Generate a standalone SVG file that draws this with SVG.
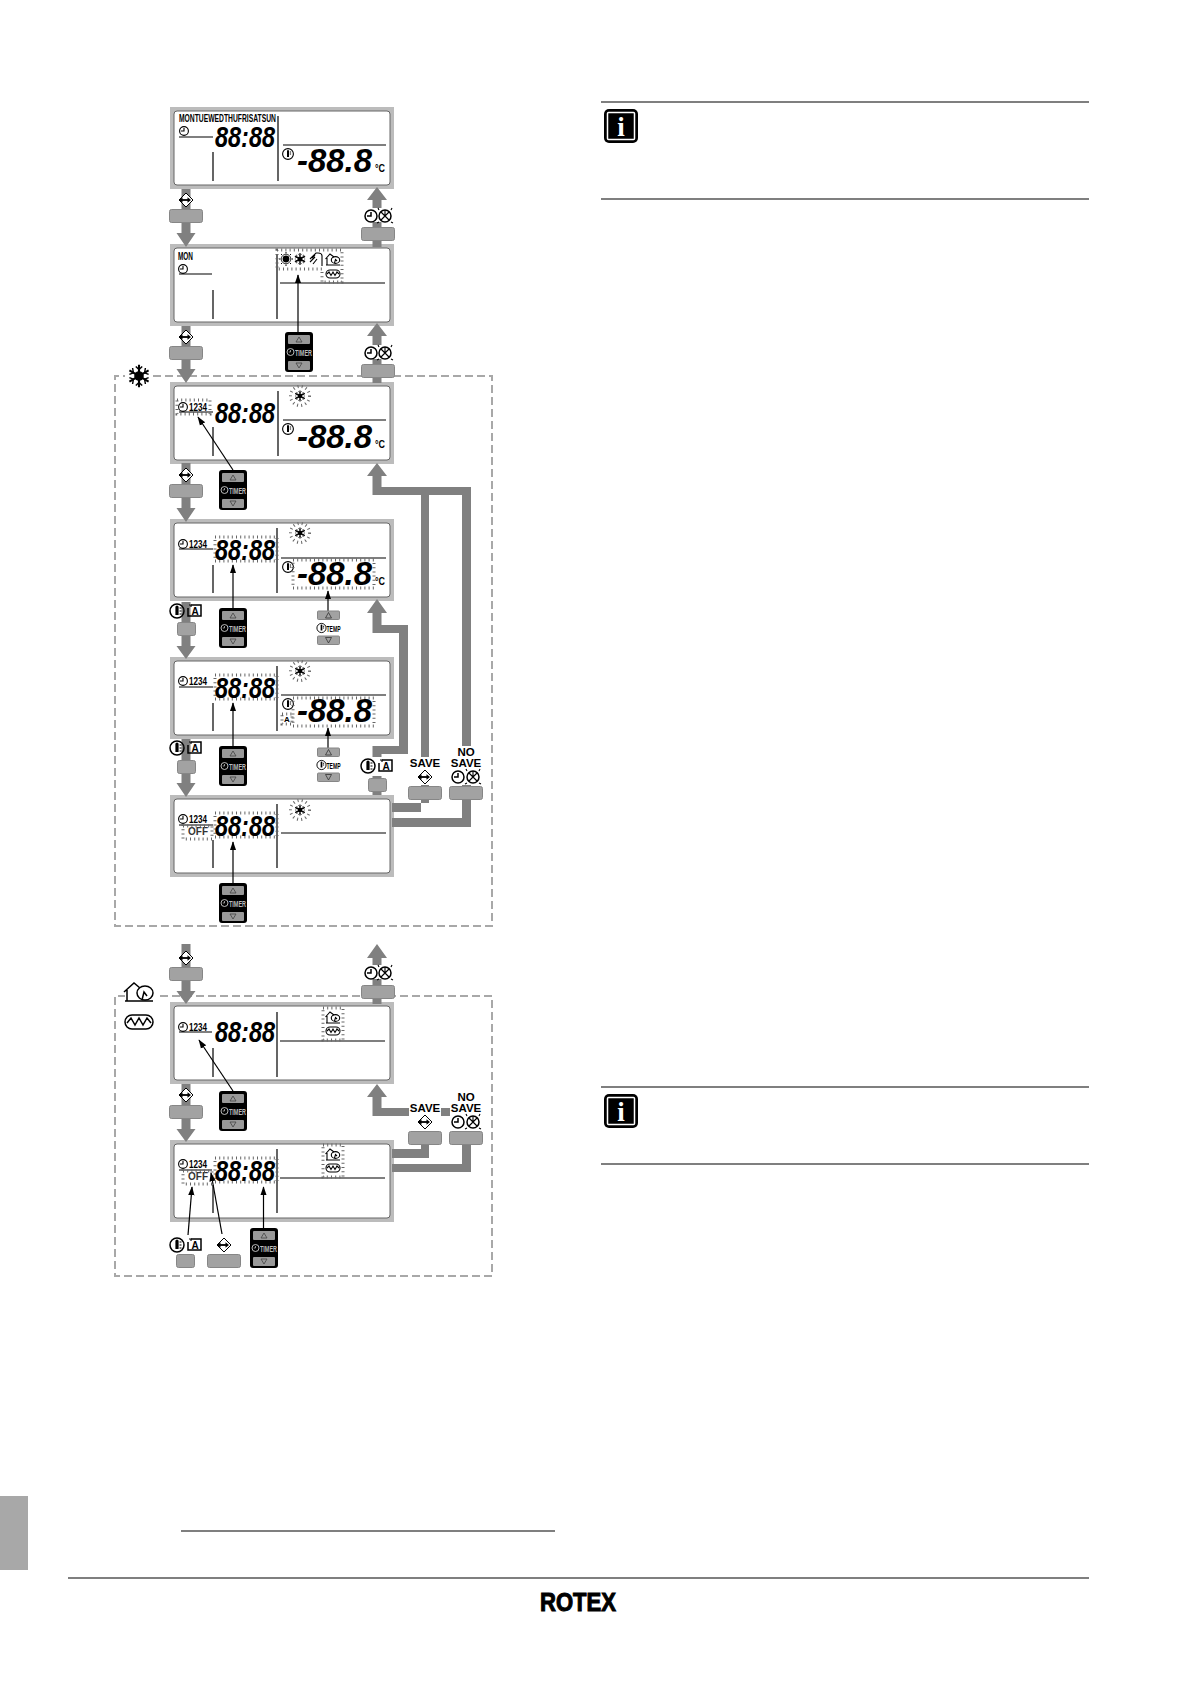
<svg xmlns="http://www.w3.org/2000/svg" xmlns:xlink="http://www.w3.org/1999/xlink" width="1191" height="1685" viewBox="0 0 1191 1685">
<style>
text{font-family:"Liberation Sans",Arial,sans-serif}
.outer{fill:#bcbcbc}
.inner{fill:#fff;stroke:#666;stroke-width:1}
.ln{stroke:#000;stroke-width:1.2;fill:none}
.dg{font-size:30px;font-weight:bold;font-style:italic}
.lg{font-size:34px;font-weight:bold;font-style:italic}
.sm{font-size:10.5px;font-weight:bold}
.cc{font-size:11px;font-weight:bold}
.blink{fill:none;stroke:#666;stroke-width:3;stroke-dasharray:1 3.2}
.thick{fill:#808080}
.btn{fill:#a2a2a2;stroke:#868686;stroke-width:1}
.thin{stroke:#000;stroke-width:1.2;fill:none;marker-end:url(#head)}
.lbl{font-size:11.5px;font-weight:bold;text-anchor:middle}
.ic{fill:none;stroke:#000;stroke-width:1.1}
.ict{fill:none;stroke:#000;stroke-width:1.5}
.dash{fill:none;stroke:#a8a8a8;stroke-width:2;stroke-dasharray:8 4}
.rule{stroke:#000;stroke-width:1.2}
.rk{font-size:9.5px;font-weight:bold;fill:#bbb}
.tp{font-size:9px;font-weight:bold}
</style>
<defs>
<marker id="head" markerUnits="userSpaceOnUse" markerWidth="9" markerHeight="13" refX="12" refY="4.5" viewBox="0 0 13 9" orient="auto"><path d="M0,0L13,4.5L0,9Z"/></marker>
<g id="clock"><circle r="4.4" class="ic"/><path d="M0,-3V0H-3" class="ic"/></g>
<g id="clockL"><circle r="6" class="ict"/><path d="M0,-4V0H-4" class="ict"/></g>
<g id="xc"><circle r="6" class="ict"/><path d="M-4,-4L4,4M4,-4L-4,4M0,-6V0" class="ic"/><path d="M-7,-8l1,2M7,-8l-1,2M-8,7l2,-1M8,7l-2,-1" class="ic"/></g>
<g id="thermo"><circle r="5.4" class="ic"/><path d="M-1,3V-3a1,1 0 0 1 2,0V3Z" fill="#000"/><path d="M1.800,-2h1.300M1.800,0h1.300" class="ic"/></g>
<g id="thermoL"><circle r="7" class="ict"/><path d="M-1.600,4V-4a1.600,1.600 0 0 1 3.200,0V4Z" fill="#000"/><path d="M2.500,-3h2M2.500,0h2M2.500,3h2" class="ic"/></g>
<g id="aicon"><path d="M-4,-6H6V5H-7V-3" class="ict"/><path d="M-6,-6l2,0l0,2" class="ic"/><text x="0" y="4" font-size="10" font-weight="bold" text-anchor="middle">A</text></g>
<g id="enter"><path d="M0,-7L7,0L0,7L-7,0Z" fill="#fff" stroke="#000" stroke-width="1"/><path d="M-6,0H3" stroke="#000" stroke-width="1.800"/><path d="M-7,0l3.500,-2.800v5.600ZM5,0l-3.500,-2.800v5.600Z"/></g>
<g id="snow"><path d="M0,-7V7M-6,-3.500L6,3.500M-6,3.500L6,-3.500" stroke="#000" stroke-width="1.300"/><path d="M-2,-6L0,-4L2,-6M-2,6L0,4L2,6M-6,-1L-3.500,-2L-4,-5M6,-1L3.500,-2L4,-5M-6,1L-3.500,2L-4,5M6,1L3.500,2L4,5" stroke="#000" stroke-width=".9" fill="none"/><circle r="3"/></g>
<g id="snowB"><use xlink:href="#snow" href="#snow" transform="scale(.8)"/><circle r="9.500" class="blink"/></g>
<g id="sun"><circle r="3.400"/><circle r="4.800" fill="none" stroke="#000" stroke-width=".8"/><path d="M0,-7V-5.500M0,5.500V7M-7,0H-5.500M5.500,0H7M-5,-5l1,1M4,4l1,1M-5,5l1,-1M4,-4l1,-1" stroke="#000"/></g>
<g id="shower"><path d="M6,7V-3Q6,-6 2,-6H0L-6,0M-4,-1L-1,-4M-6,3L-1,-2M-3,5L1,0" class="ic"/></g>
<g id="house"><path d="M-7,6H7M-6,6V-1M-7.500,0L-3,-5L1,-2" class="ic"/><ellipse cx="2.500" cy="1" rx="4.200" ry="3.400" class="ic"/><path d="M1.500,4L2.500,0.500L4,2" class="ic"/></g>
<g id="heater"><rect x="-7" y="-4" width="14" height="8" rx="4" class="ic"/><path d="M-6,0L-4,-2L-2,1.500L0,-2L2,1.500L4,-2L6,0" class="ic"/></g>
<g id="houseL"><path d="M-14,9H14M-12,9V-2M-15,0L-5,-9L1,-4" class="ict"/><ellipse cx="6" cy="1" rx="8" ry="7" class="ict"/><path d="M3,8L5,0L8,4" class="ict"/></g>
<g id="heaterL"><rect x="-14" y="-7" width="28" height="14" rx="7" class="ict"/><path d="M-12,1L-8,-4L-4,3L0,-4L4,3L8,-4L12,1" class="ict"/></g>
<g id="timer"><rect width="28" height="40" rx="3" fill="#000"/><rect x="3" y="3" width="22" height="9" rx="1" fill="#999"/><rect x="3" y="29" width="22" height="9" rx="1" fill="#999"/><path d="M14,5L11,10H17Z" fill="none" stroke="#444" stroke-width=".8"/><path d="M14,36L11,31H17Z" fill="none" stroke="#444" stroke-width=".8"/><circle cx="5.500" cy="20" r="3.500" fill="none" stroke="#ccc" stroke-width=".9"/><path d="M5.500,18V20H3.800" fill="none" stroke="#ccc" stroke-width=".7"/><text x="10" y="24" class="rk" textLength="17" lengthAdjust="spacingAndGlyphs">TIMER</text></g>
<g id="temp"><rect x="0" y="0" width="22" height="8.500" rx="1" class="btn"/><rect x="0" y="25" width="22" height="8.500" rx="1" class="btn"/><path d="M11,1.500L8,7H14Z" fill="none" stroke="#333" stroke-width=".8"/><path d="M11,32L8,26.500H14Z" fill="none" stroke="#333" stroke-width=".8"/><use xlink:href="#thermo" href="#thermo" transform="translate(4,17) scale(.85)"/><text x="9" y="20.500" class="tp" textLength="14" lengthAdjust="spacingAndGlyphs">TEMP</text></g>
<g id="panelbase"><rect width="224" height="82" class="outer"/><rect x="4" y="4" width="216" height="74" rx="3" class="inner"/></g>
</defs>
<rect width="1191" height="1685" fill="#fff"/>

<g id="page-frame">
<rect x="0" y="1496" width="28" height="74" fill="#a8a8a8"/>
<line x1="181" y1="1531" x2="555" y2="1531" class="rule"/>
<line x1="68" y1="1578" x2="1089" y2="1578" class="rule"/>
<text x="540" y="1611" font-size="25" font-weight="bold" stroke="#000" stroke-width="1" textLength="76" lengthAdjust="spacingAndGlyphs">ROTEX</text>
</g>

<g id="info-1">
<line x1="601" y1="102" x2="1089" y2="102" class="rule"/><line x1="601" y1="199" x2="1089" y2="199" class="rule"/>
<rect x="604" y="109" width="34" height="34" rx="5" fill="#000"/><rect x="607.500" y="112.500" width="27" height="27" rx="1" fill="#000" stroke="#fff" stroke-width="1.500"/>
<text x="621" y="136" font-size="27" font-weight="bold" fill="#fff" text-anchor="middle" style="font-family:'Liberation Serif',serif">i</text>
</g>
<g id="info-2">
<line x1="601" y1="1087" x2="1089" y2="1087" class="rule"/><line x1="601" y1="1164" x2="1089" y2="1164" class="rule"/>
<rect x="604" y="1094" width="34" height="34" rx="5" fill="#000"/><rect x="607.500" y="1097.500" width="27" height="27" rx="1" fill="#000" stroke="#fff" stroke-width="1.500"/>
<text x="621" y="1121" font-size="27" font-weight="bold" fill="#fff" text-anchor="middle" style="font-family:'Liberation Serif',serif">i</text>
</g>

<g id="zone-cool">
<path d="M153,376H492V926H115V376H125" class="dash"/>
<use xlink:href="#snow" href="#snow" transform="translate(139,376) scale(1.600)"/>
</g>
<g id="zone-heat">
<path d="M160,996H492V1276H115V996H125" class="dash"/>
<use xlink:href="#houseL" href="#houseL" transform="translate(139,992)"/>
<use xlink:href="#heaterL" href="#heaterL" transform="translate(139,1022)"/>
</g>

<g id="panel-1" transform="translate(170,107)">
<use xlink:href="#panelbase" href="#panelbase"/>
<text x="9" y="15" class="sm" textLength="97" lengthAdjust="spacingAndGlyphs">MONTUEWEDTHUFRISATSUN</text>
<use xlink:href="#clock" href="#clock" transform="translate(14,24)"/>
<path d="M9,30H43M43,45V74M108,9V74M113,38H216" class="ln"/>
<text x="45" y="40" class="dg" textLength="60" lengthAdjust="spacingAndGlyphs">88:88</text>
<use xlink:href="#thermo" href="#thermo" transform="translate(118,47)"/>
<text x="127" y="65" class="lg" textLength="75" lengthAdjust="spacingAndGlyphs">-88.8</text>
<text x="205" y="65" class="cc" textLength="10" lengthAdjust="spacingAndGlyphs">°C</text>
</g>

<g id="panel-2" transform="translate(170,244)">
<use xlink:href="#panelbase" href="#panelbase"/>
<text x="8" y="16" class="sm" textLength="15" lengthAdjust="spacingAndGlyphs">MON</text>
<use xlink:href="#clock" href="#clock" transform="translate(13,25)"/>
<path d="M9,30H42M43,46V75M107,10V75M110,39H215" class="ln"/>
<use xlink:href="#sun" href="#sun" transform="translate(116,15)"/>
<use xlink:href="#snow" href="#snow" transform="translate(130,15) scale(.85)"/>
<use xlink:href="#shower" href="#shower" transform="translate(146,15)"/>
<use xlink:href="#house" href="#house" transform="translate(163,15)"/>
<use xlink:href="#heater" href="#heater" transform="translate(163,30)"/>
<path d="M107,6H172V38H152V25H107Z" class="blink"/>
</g>

<g id="panel-3" transform="translate(170,382)">
<use xlink:href="#panelbase" href="#panelbase"/>
<use xlink:href="#clock" href="#clock" transform="translate(13,25)"/>
<text x="19" y="29" class="sm" textLength="18" lengthAdjust="spacingAndGlyphs">1234</text>
<rect x="7" y="18" width="33" height="14" class="blink"/>
<path d="M9,30H43M43,45V74M108,9V74M113,38H216" class="ln"/>
<text x="45" y="41" class="dg" textLength="60" lengthAdjust="spacingAndGlyphs">88:88</text>
<use xlink:href="#snowB" href="#snowB" transform="translate(130,14)"/>
<use xlink:href="#thermo" href="#thermo" transform="translate(118,47)"/>
<text x="127" y="66" class="lg" textLength="75" lengthAdjust="spacingAndGlyphs">-88.8</text>
<text x="205" y="66" class="cc" textLength="10" lengthAdjust="spacingAndGlyphs">°C</text>
</g>

<g id="panel-4" transform="translate(170,519)">
<use xlink:href="#panelbase" href="#panelbase"/>
<use xlink:href="#clock" href="#clock" transform="translate(13,25)"/>
<text x="19" y="29" class="sm" textLength="18" lengthAdjust="spacingAndGlyphs">1234</text>
<path d="M9,30H43M43,46V74M107,9V74M111,39H216" class="ln"/>
<rect x="45" y="18" width="62" height="24" class="blink"/>
<text x="45" y="41" class="dg" textLength="60" lengthAdjust="spacingAndGlyphs">88:88</text>
<use xlink:href="#snowB" href="#snowB" transform="translate(130,14)"/>
<use xlink:href="#thermo" href="#thermo" transform="translate(118,48)"/>
<rect x="123" y="41" width="81" height="28" class="blink"/>
<text x="127" y="66" class="lg" textLength="75" lengthAdjust="spacingAndGlyphs">-88.8</text>
<text x="205" y="66" class="cc" textLength="10" lengthAdjust="spacingAndGlyphs">°C</text>
</g>

<g id="panel-5" transform="translate(170,657)">
<use xlink:href="#panelbase" href="#panelbase"/>
<use xlink:href="#clock" href="#clock" transform="translate(13,24)"/>
<text x="19" y="28" class="sm" textLength="18" lengthAdjust="spacingAndGlyphs">1234</text>
<path d="M9,30H43M43,46V74M107,9V74M111,38H216" class="ln"/>
<rect x="45" y="18" width="62" height="24" class="blink"/>
<text x="45" y="41" class="dg" textLength="60" lengthAdjust="spacingAndGlyphs">88:88</text>
<use xlink:href="#snowB" href="#snowB" transform="translate(130,14)"/>
<use xlink:href="#thermo" href="#thermo" transform="translate(118,47)"/>
<rect x="112" y="57" width="10" height="10" class="blink"/>
<text x="117" y="65" font-size="8" font-weight="bold" text-anchor="middle">A</text>
<rect x="123" y="41" width="81" height="28" class="blink"/>
<text x="127" y="65" class="lg" textLength="75" lengthAdjust="spacingAndGlyphs">-88.8</text>
</g>

<g id="panel-6" transform="translate(170,795)">
<use xlink:href="#panelbase" href="#panelbase"/>
<use xlink:href="#clock" href="#clock" transform="translate(13,24)"/>
<text x="19" y="28" class="sm" textLength="18" lengthAdjust="spacingAndGlyphs">1234</text>
<path d="M9,30H43M43,45V73M107,9V73M111,38H216" class="ln"/>
<text x="18" y="40" class="sm" fill="#333" textLength="20" lengthAdjust="spacingAndGlyphs">OFF</text>
<rect x="13" y="31" width="29" height="13" class="blink"/>
<rect x="45" y="18" width="62" height="24" class="blink"/>
<text x="45" y="41" class="dg" textLength="60" lengthAdjust="spacingAndGlyphs">88:88</text>
<use xlink:href="#snowB" href="#snowB" transform="translate(130,15)"/>
</g>

<g id="panel-7" transform="translate(170,1002)">
<use xlink:href="#panelbase" href="#panelbase"/>
<use xlink:href="#clock" href="#clock" transform="translate(13,25)"/>
<text x="19" y="29" class="sm" textLength="18" lengthAdjust="spacingAndGlyphs">1234</text>
<path d="M9,30H42M43,46V75M107,10V75M110,39H215" class="ln"/>
<text x="45" y="40" class="dg" textLength="60" lengthAdjust="spacingAndGlyphs">88:88</text>
<use xlink:href="#house" href="#house" transform="translate(163,15)"/>
<use xlink:href="#heater" href="#heater" transform="translate(163,29)"/>
<rect x="153" y="6" width="20" height="32" class="blink"/>
</g>

<g id="panel-8" transform="translate(170,1140)">
<use xlink:href="#panelbase" href="#panelbase"/>
<use xlink:href="#clock" href="#clock" transform="translate(13,24)"/>
<text x="19" y="28" class="sm" textLength="18" lengthAdjust="spacingAndGlyphs">1234</text>
<path d="M9,30H42M43,45V73M107,9V73M110,38H215" class="ln"/>
<text x="18" y="40" class="sm" fill="#333" textLength="20" lengthAdjust="spacingAndGlyphs">OFF</text>
<rect x="13" y="31" width="29" height="13" class="blink"/>
<rect x="45" y="18" width="62" height="24" class="blink"/>
<text x="45" y="41" class="dg" textLength="60" lengthAdjust="spacingAndGlyphs">88:88</text>
<use xlink:href="#house" href="#house" transform="translate(163,14)"/>
<use xlink:href="#heater" href="#heater" transform="translate(163,28)"/>
<rect x="153" y="5" width="20" height="32" class="blink"/>
</g>

<g id="connectors">
<g class="thick">
<polygon points="181.500,189 190.500,189 190.500,233 195.500,233 186,247 176.500,233 181.500,233"/>
<polygon points="181.500,326 190.500,326 190.500,369 195.500,369 186,383 176.500,369 181.500,369"/>
<polygon points="181.500,463 190.500,463 190.500,508 195.500,508 186,522 176.500,508 181.500,508"/>
<polygon points="181.500,602 190.500,602 190.500,646 195.500,646 186,659 176.500,646 181.500,646"/>
<polygon points="181.500,739 190.500,739 190.500,783 195.500,783 186,797 176.500,783 181.500,783"/>
<polygon points="181.500,944 190.500,944 190.500,991 195.500,991 186,1004 176.500,991 181.500,991"/>
<polygon points="181.500,1084 190.500,1084 190.500,1129 195.500,1129 186,1142 176.500,1129 181.500,1129"/>
<polygon points="372.500,247 381.500,247 381.500,200 387,200 377,187 367,200 372.500,200"/>
<polygon points="372.500,383 381.500,383 381.500,336 387,336 377,323 367,336 372.500,336"/>
<polygon points="372.500,1004 381.500,1004 381.500,958 387,958 377,944 367,958 372.500,958"/>
<polygon points="372.500,495 421,495 421,812 392,812 392,803 429,803 429,495 462,495 462,818 392,818 392,827 471,827 471,487 381.500,487 381.500,476 387,476 377,463 367,476 372.500,476"/>
<polygon points="372.500,795 381.500,795 381.500,754 408,754 408,625 381.500,625 381.500,613 387,613 377,599 367,613 372.500,613 372.500,633 399,633 399,746 372.500,746"/>
<polygon points="372.500,1116 421,1116 421,1149 392,1149 392,1158 429,1158 429,1116 462,1116 462,1164 392,1164 392,1172 471,1172 471,1108 381.500,1108 381.500,1097 387,1097 377,1084 367,1097 372.500,1097"/>
</g>
<line x1="298" y1="332" x2="298" y2="275" class="thin"/>
<line x1="233" y1="470" x2="198" y2="417" class="thin"/>
<line x1="233" y1="608" x2="233" y2="565" class="thin"/>
<line x1="328" y1="611" x2="328" y2="591" class="thin"/>
<line x1="233" y1="746" x2="233" y2="703" class="thin"/>
<line x1="328" y1="748" x2="328" y2="728" class="thin"/>
<line x1="233" y1="883" x2="233" y2="842" class="thin"/>
<line x1="233" y1="1091" x2="199" y2="1040" class="thin"/>
<line x1="263.500" y1="1228" x2="263.500" y2="1187" class="thin"/>
<line x1="188" y1="1235" x2="192" y2="1187" class="thin"/>
<line x1="222" y1="1234" x2="211" y2="1173" class="thin"/>
</g>

<g id="ctl-enter-1"><use xlink:href="#enter" href="#enter" transform="translate(186,200)"/><rect x="169.500" y="209.500" width="33" height="13" rx="2" class="btn"/></g>
<g id="ctl-exit-1"><rect x="368" y="208" width="22" height="14" fill="#fff"/><use xlink:href="#clockL" href="#clockL" transform="translate(371,216)"/><use xlink:href="#xc" href="#xc" transform="translate(385,216)"/><rect x="361.500" y="227.500" width="33" height="13" rx="2" class="btn"/></g>
<g id="ctl-enter-2"><use xlink:href="#enter" href="#enter" transform="translate(186,337)"/><rect x="169.500" y="346.500" width="33" height="13" rx="2" class="btn"/></g>
<g id="ctl-exit-2"><rect x="368" y="345" width="22" height="14" fill="#fff"/><use xlink:href="#clockL" href="#clockL" transform="translate(371,353)"/><use xlink:href="#xc" href="#xc" transform="translate(385,353)"/><rect x="361.500" y="364.500" width="33" height="13" rx="2" class="btn"/></g>
<g id="ctl-timer-2"><use xlink:href="#timer" href="#timer" transform="translate(285,332)"/></g>
<g id="ctl-enter-3"><use xlink:href="#enter" href="#enter" transform="translate(186,475)"/><rect x="169.500" y="484.500" width="33" height="13" rx="2" class="btn"/></g>
<g id="ctl-timer-3"><use xlink:href="#timer" href="#timer" transform="translate(219,470)"/></g>
<g id="ctl-mode-4"><use xlink:href="#thermoL" href="#thermoL" transform="translate(177,611)"/><use xlink:href="#aicon" href="#aicon" transform="translate(195,611)"/><rect x="177.500" y="622.500" width="18" height="13" rx="2" class="btn"/></g>
<g id="ctl-timer-4"><use xlink:href="#timer" href="#timer" transform="translate(219,608)"/></g>
<g id="ctl-temp-4"><use xlink:href="#temp" href="#temp" transform="translate(317.500,611)"/></g>
<g id="ctl-mode-5"><use xlink:href="#thermoL" href="#thermoL" transform="translate(177,748)"/><use xlink:href="#aicon" href="#aicon" transform="translate(195,748)"/><rect x="177.500" y="760.500" width="18" height="13" rx="2" class="btn"/></g>
<g id="ctl-timer-5"><use xlink:href="#timer" href="#timer" transform="translate(219,746)"/></g>
<g id="ctl-temp-5"><use xlink:href="#temp" href="#temp" transform="translate(317.500,748)"/></g>
<g id="ctl-mode-6"><rect x="361" y="757" width="34" height="19" fill="#fff"/><use xlink:href="#thermoL" href="#thermoL" transform="translate(368,766)"/><use xlink:href="#aicon" href="#aicon" transform="translate(386,766)"/><rect x="368.500" y="778.500" width="18" height="13" rx="2" class="btn"/></g>
<g id="ctl-timer-6"><use xlink:href="#timer" href="#timer" transform="translate(219,883)"/></g>
<g id="ctl-save-1"><rect x="408" y="757" width="34" height="28" fill="#fff"/><text x="425" y="767" class="lbl">SAVE</text><use xlink:href="#enter" href="#enter" transform="translate(425,777)"/><rect x="408.500" y="786.500" width="33" height="13" rx="2" class="btn"/></g>
<g id="ctl-nosave-1"><rect x="449" y="746" width="34" height="39" fill="#fff"/><text class="lbl"><tspan x="466" y="756">NO</tspan><tspan x="466" y="767">SAVE</tspan></text><use xlink:href="#clockL" href="#clockL" transform="translate(458,777)"/><use xlink:href="#xc" href="#xc" transform="translate(473,777)"/><rect x="449.500" y="786.500" width="33" height="13" rx="2" class="btn"/></g>
<g id="ctl-enter-7"><use xlink:href="#enter" href="#enter" transform="translate(186,958)"/><rect x="169.500" y="967.500" width="33" height="13" rx="2" class="btn"/></g>
<g id="ctl-exit-7"><rect x="368" y="965" width="22" height="14" fill="#fff"/><use xlink:href="#clockL" href="#clockL" transform="translate(371,973)"/><use xlink:href="#xc" href="#xc" transform="translate(385,973)"/><rect x="361.500" y="985.500" width="33" height="13" rx="2" class="btn"/></g>
<g id="ctl-enter-8"><use xlink:href="#enter" href="#enter" transform="translate(186,1095)"/><rect x="169.500" y="1105.500" width="33" height="13" rx="2" class="btn"/></g>
<g id="ctl-timer-7"><use xlink:href="#timer" href="#timer" transform="translate(219,1091)"/></g>
<g id="ctl-save-2"><rect x="409" y="1102" width="32" height="29" fill="#fff"/><text x="425" y="1112" class="lbl">SAVE</text><use xlink:href="#enter" href="#enter" transform="translate(425,1122)"/><rect x="408.500" y="1131.500" width="33" height="13" rx="2" class="btn"/></g>
<g id="ctl-nosave-2"><rect x="450" y="1091" width="33" height="40" fill="#fff"/><text class="lbl"><tspan x="466" y="1101">NO</tspan><tspan x="466" y="1112">SAVE</tspan></text><use xlink:href="#clockL" href="#clockL" transform="translate(458,1122)"/><use xlink:href="#xc" href="#xc" transform="translate(473,1122)"/><rect x="449.500" y="1131.500" width="33" height="13" rx="2" class="btn"/></g>
<g id="ctl-mode-8"><use xlink:href="#thermoL" href="#thermoL" transform="translate(177,1245)"/><use xlink:href="#aicon" href="#aicon" transform="translate(195,1245)"/><rect x="176.500" y="1254.500" width="18" height="13" rx="2" class="btn"/></g>
<g id="ctl-enter-9"><use xlink:href="#enter" href="#enter" transform="translate(224,1245)"/><rect x="207.500" y="1254.500" width="33" height="13" rx="2" class="btn"/></g>
<g id="ctl-timer-8"><use xlink:href="#timer" href="#timer" transform="translate(250,1228)"/></g>
</svg>
